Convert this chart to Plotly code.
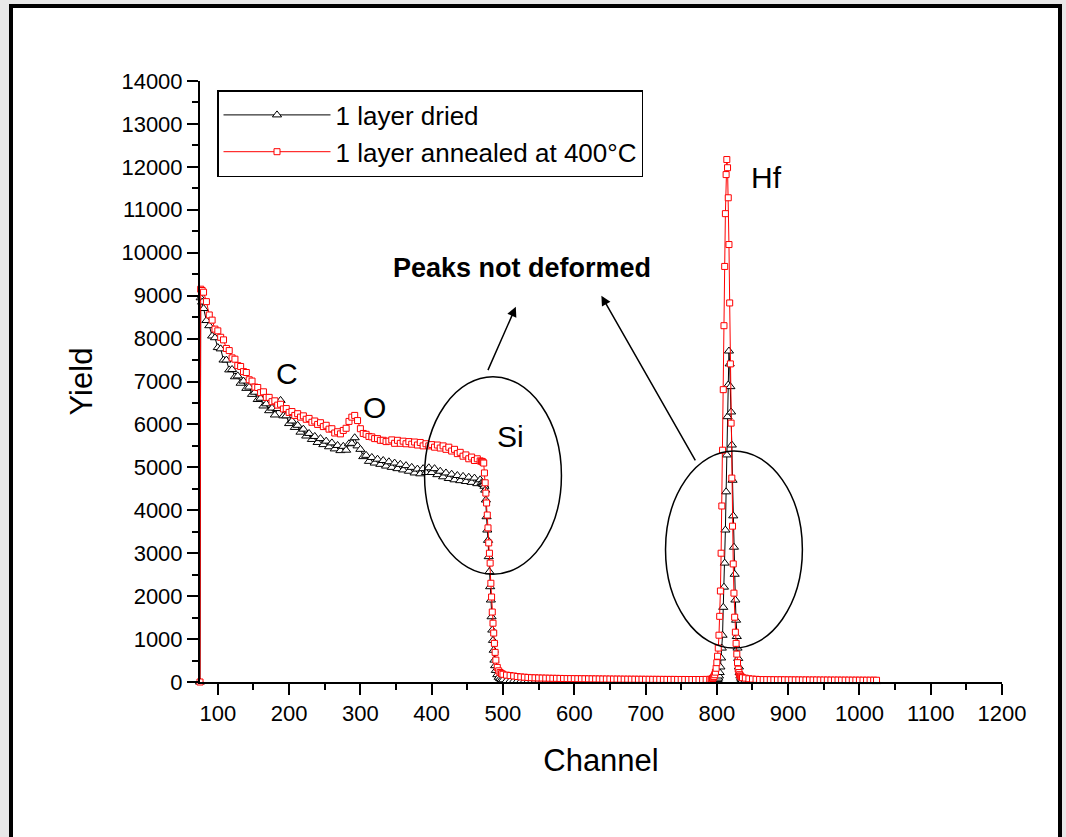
import plotly.graph_objects as go

# ---------------- data ----------------
channel = [
    75, 76, 78,
    80, 84, 88, 92, 96, 100, 104, 108, 112, 116, 120, 124, 128, 132, 136, 140,
    144, 148, 152, 156, 160, 164, 168, 172, 176, 180, 184, 188, 192, 196, 200,
    204, 208, 212, 216, 220, 224, 228, 232, 236, 240, 244, 248, 252, 256, 260,
    264, 268, 272, 276, 280, 284, 288, 292, 296, 300, 304, 308, 312, 316, 320,
    324, 328, 332, 336, 340, 344, 348, 352, 356, 360, 364, 368, 372, 376, 380,
    384, 388, 392, 396, 400, 404, 408, 412, 416, 420, 424, 428, 432, 436, 440,
    444, 448, 452, 456, 460, 464, 468,
    470, 471, 472, 473, 474, 475, 476, 477, 478, 479, 480, 481, 482, 483, 484,
    485, 486, 487, 488, 489, 490, 492, 494, 496, 498, 500, 505, 510,
    515, 520, 525, 530, 535, 540, 545, 550, 555, 560, 565, 570, 575, 580, 585,
    590, 595, 600, 605, 610, 615, 620, 625, 630, 635, 640, 645, 650, 655, 660,
    665, 670, 675, 680, 685, 690, 695, 700, 705, 710, 715, 720, 725, 730, 735,
    740, 745, 750, 755, 760, 765, 770, 775, 780, 785, 790,
    792, 793, 794, 795, 796, 797, 798, 799, 800, 801, 802, 803, 804, 805, 806,
    807, 808, 809, 810, 811, 812, 813, 814, 815, 816, 817, 818, 819, 820, 821,
    822, 823, 824, 825, 826, 827, 828, 829, 830, 831, 832, 833, 834, 835, 836,
    840, 845, 850, 855, 860, 865, 870, 875, 880, 885, 890, 895, 900, 905, 910,
    915, 920, 925, 930, 935, 940, 945, 950, 955, 960, 965, 970, 975, 980, 985,
    990, 995, 1000, 1005, 1010, 1015, 1020, 1024,
]

yield_dried = [
    0, 8950, 8850,
    8700, 8420, 8300, 8060, 8020, 7790, 7760, 7500, 7500, 7270, 7280, 7110, 7130, 6960, 7010, 6840,
    6870, 6700, 6750, 6580, 6610, 6430, 6480, 6320, 6380, 6220, 6370, 6560, 6200, 6200, 6020,
    6080, 5930, 5980, 5820, 5890, 5730, 5790, 5650, 5720, 5580, 5670, 5530, 5610, 5480, 5570,
    5430, 5510, 5390, 5490, 5400, 5550, 5560, 5690, 5500, 5420, 5250, 5280, 5140, 5230, 5100,
    5190, 5070, 5160, 5030, 5130, 5000, 5100, 4970, 5070, 4940, 5040, 4910, 5000, 4870, 4960,
    4850, 4970, 4880, 4990, 4880, 4970, 4830, 4910, 4780, 4870, 4740, 4840, 4710, 4810, 4690,
    4790, 4670, 4770, 4650, 4750, 4620, 4710,
    4640, 4620, 4610, 4600, 4560, 4470, 4240, 3850, 3540, 3300, 2920, 2570, 2220, 1910, 1520,
    1210, 970, 740, 510, 380, 270, 170, 110, 80, 60, 50, 35, 28,
    25, 22, 21, 20, 19, 19, 18, 18, 17, 17, 17, 16, 16, 16, 16,
    15, 15, 15, 15, 15, 15, 14, 14, 14, 14, 14, 14, 14, 14, 14,
    14, 13, 13, 13, 13, 13, 13, 13, 13, 13, 13, 13, 13, 13, 13,
    14, 14, 14, 14, 15, 15, 15, 16, 16, 17, 18,
    18, 20, 22, 25, 28, 32, 36, 40, 50, 60, 90, 140, 220, 350, 560,
    790, 1090, 1740, 2210, 2770, 3540, 4430, 5290, 6180, 6920, 7710, 7410, 6880, 6290, 5520,
    4700, 3870, 3140, 2510, 1910, 1440, 1060, 790, 550, 350, 220, 140, 90, 60, 40,
    28, 22, 20, 18, 17, 16, 16, 15, 15, 15, 14, 14, 14, 14, 13,
    13, 13, 13, 13, 12, 12, 12, 12, 12, 12, 12, 12, 12, 11, 11,
    11, 11, 11, 11, 11, 11, 11, 10,
]

yield_annealed = [
    0, 9150, 9120,
    9080, 8860, 8550, 8430, 8220, 8180, 8030, 7970, 7770, 7720, 7550, 7520, 7370, 7350, 7230, 7210,
    7040, 7010, 6870, 6860, 6740, 6760, 6630, 6630, 6530, 6550, 6450, 6470, 6360, 6370, 6280,
    6300, 6210, 6250, 6170, 6200, 6120, 6140, 6050, 6080, 6000, 6040, 5950, 5980, 5890, 5900,
    5800, 5830, 5780, 5860, 5910, 6070, 6170, 6210, 6090, 5900, 5790, 5770, 5720, 5710, 5670,
    5670, 5630, 5630, 5600, 5610, 5640, 5560, 5630, 5560, 5610, 5550, 5600, 5540, 5590, 5520,
    5580, 5500, 5550, 5500, 5530, 5470, 5520, 5450, 5500, 5420, 5470, 5380, 5420, 5320, 5350,
    5260, 5290, 5200, 5240, 5160, 5200, 5150,
    5140, 5130, 5120, 5100, 4870, 4640, 4400, 4170, 3890, 3590, 3240, 3000, 2770, 2300, 1980,
    1630, 1370, 1140, 900, 690, 510, 340, 260, 220, 195, 180, 160, 150,
    140, 128, 118, 112, 106, 100, 97, 94, 92, 90, 88, 86, 85, 83, 82,
    80, 79, 78, 77, 76, 75, 74, 73, 72, 71, 70, 70, 69, 68, 68,
    67, 66, 66, 65, 65, 64, 64, 63, 63, 62, 62, 61, 61, 60, 60,
    60, 59, 59, 59, 58, 58, 58, 58, 59, 60, 62,
    60, 70, 80, 100, 130, 170, 230, 320, 450, 600, 790, 1090, 1530, 2120, 3000,
    4100, 5400, 6810, 8300, 9680, 10910, 11820, 12170, 11980, 11280, 10190, 8830, 7410, 6030, 4750,
    3630, 2750, 2070, 1510, 1160, 900, 650, 450, 300, 220, 170, 140, 120, 110, 100,
    90, 75, 68, 62, 58, 56, 55, 54, 53, 52, 52, 51, 50, 50, 49,
    49, 48, 48, 47, 47, 47, 46, 46, 46, 45, 45, 45, 44, 44, 44,
    43, 43, 43, 42, 42, 42, 42, 41,
]

series_names = ["1 layer dried", "1 layer annealed at 400°C"]
x_ticks = [100, 200, 300, 400, 500, 600, 700, 800, 900, 1000, 1100, 1200]
y_ticks = [0, 1000, 2000, 3000, 4000, 5000, 6000, 7000, 8000, 9000,
           10000, 11000, 12000, 13000, 14000]

FONT = "Liberation Sans, Arial, sans-serif"

fig = go.Figure()
fig.add_trace(go.Scatter(
    x=channel, y=yield_dried, name=series_names[0], mode="lines+markers",
    line=dict(color="black", width=1),
    marker=dict(symbol="triangle-up", size=8, color="white",
                line=dict(color="black", width=1)),
    cliponaxis=False,
))
fig.add_trace(go.Scatter(
    x=channel, y=yield_annealed, name=series_names[1], mode="lines+markers",
    line=dict(color="#ff0000", width=1),
    marker=dict(symbol="square", size=6, color="white",
                line=dict(color="#ff0000", width=1)),
    cliponaxis=False,
))

W, H = 1066, 837
L, R, T, B = 200, 64, 81, 155
pw, ph = W - L - R, H - T - B

def px2paper_x(px):
    return (px - L) / pw

def px2paper_y(py):
    return (H - B - py) / ph

shapes = [
    # outer page frame
    dict(type="rect", xref="paper", yref="paper",
         x0=px2paper_x(11), x1=px2paper_x(1060),
         y0=px2paper_y(860), y1=px2paper_y(6),
         fillcolor="white", line=dict(color="black", width=4), layer="below"),
    # ellipses around the Si edge and the Hf peak
    dict(type="circle", xref="x", yref="y", x0=390, x1=582, y0=2510, y1=7110,
         line=dict(color="black", width=1.5)),
    dict(type="circle", xref="x", yref="y", x0=728, x1=920, y0=790, y1=5380,
         line=dict(color="black", width=1.5)),
]

txt = dict(family=FONT, size=30, color="black")
annotations = [
    dict(x=197, y=7180, text="C", showarrow=False, font=txt),
    dict(x=320, y=6390, text="O", showarrow=False, font=txt),
    dict(x=510, y=5710, text="Si", showarrow=False, font=txt),
    dict(x=869, y=11750, text="Hf", showarrow=False, font=txt),
    dict(x=526, y=9650, text="<b>Peaks not deformed</b>", showarrow=False,
         font=dict(family=FONT, size=27, color="black")),
    dict(x=518, y=8740, ax=478, ay=7230, axref="x", ayref="y", text="",
         showarrow=True, arrowhead=2, arrowsize=1.3, arrowwidth=1.5,
         arrowcolor="black"),
    dict(x=638, y=9000, ax=771, ay=5130, axref="x", ayref="y", text="",
         showarrow=True, arrowhead=2, arrowsize=1.3, arrowwidth=1.5,
         arrowcolor="black"),
]

fig.update_layout(
    width=W, height=H,
    margin=dict(l=L, r=R, t=T, b=B, pad=0),
    paper_bgcolor="#e8e8e8",
    plot_bgcolor="white",
    font=dict(family=FONT, color="black"),
    shapes=shapes,
    annotations=annotations,
    showlegend=True,
    legend=dict(
        x=px2paper_x(217), y=px2paper_y(90), xanchor="left", yanchor="top",
        bgcolor="white", bordercolor="black", borderwidth=1.5,
        font=dict(family=FONT, size=26, color="black"),
        itemwidth=107, tracegroupgap=0,
    ),
)

fig.update_xaxes(
    range=[75, 1200], tickmode="array", tickvals=x_ticks,
    ticktext=[str(v) for v in x_ticks],
    ticks="outside", ticklen=11, tickwidth=2, tickcolor="black",
    minor=dict(dtick=50, tick0=50, ticks="outside", ticklen=6, tickwidth=2,
               tickcolor="black"),
    showline=True, linecolor="black", linewidth=2, showgrid=False,
    zeroline=False, tickfont=dict(family=FONT, size=22, color="black"),
    title=dict(text="Channel", font=dict(family=FONT, size=31, color="black"),
               standoff=24),
)
fig.update_yaxes(
    range=[0, 14000], tickmode="array", tickvals=y_ticks,
    ticktext=[str(v) for v in y_ticks],
    ticks="outside", ticklen=11, tickwidth=2, tickcolor="black",
    minor=dict(dtick=500, tick0=0, ticks="outside", ticklen=6, tickwidth=2,
               tickcolor="black"),
    showline=True, linecolor="black", linewidth=2, showgrid=False,
    zeroline=False, tickfont=dict(family=FONT, size=22, color="black"),
    title=dict(text="Yield", font=dict(family=FONT, size=31, color="black"),
               standoff=20),
)

fig.write_html("out.html")
